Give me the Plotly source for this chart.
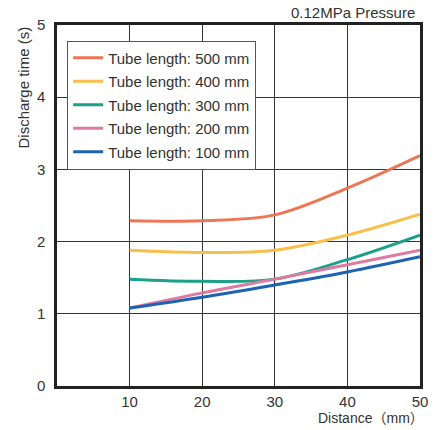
import plotly.graph_objects as go

distance = [10, 20, 30, 40, 50]
series_names = ["Tube length: 500 mm", "Tube length: 400 mm", "Tube length: 300 mm",
                "Tube length: 200 mm", "Tube length: 100 mm"]
t500 = [2.29, 2.29, 2.37, 2.74, 3.19]
t400 = [1.88, 1.85, 1.88, 2.09, 2.38]
t300 = [1.48, 1.45, 1.48, 1.75, 2.09]
t200 = [1.08, 1.29, 1.48, 1.68, 1.88]
t100 = [1.08, 1.23, 1.40, 1.58, 1.79]
series_values = [t500, t400, t300, t200, t100]
colors = ["#EE7656", "#F8C04A", "#1BA08C", "#DE7AA0", "#1D63B3"]

x_ticks = [10, 20, 30, 40, 50]
y_ticks = [0, 1, 2, 3, 4, 5]

font_fam = "Liberation Sans, Arial, Noto Sans CJK JP, sans-serif"

fig = go.Figure()
for i, (name, vals, c) in enumerate(zip(series_names, series_values, colors)):
    fig.add_trace(go.Scatter(
        x=distance, y=vals, mode="lines", name=name,
        line=dict(color=c, width=3, shape="spline", smoothing=1.0),
        legendgroup=str(i),
    ))

fig.update_layout(
    width=434, height=430,
    margin=dict(l=57, r=14, t=25, b=44),
    paper_bgcolor="white", plot_bgcolor="white",
    font=dict(family=font_fam, size=15, color="#333333"),
    showlegend=True,
    legend=dict(
        x=0.028, y=0.957, xanchor="left", yanchor="top",
        bgcolor="white", bordercolor="#555555", borderwidth=1,
        font=dict(size=15, color="#333333"),
        traceorder="grouped", tracegroupgap=1,
    ),
    xaxis=dict(
        range=[0, 50], tickvals=x_ticks, ticktext=[str(v) for v in x_ticks],
        showgrid=True, gridcolor="#333333", gridwidth=1,
        showline=True, linecolor="#222222", linewidth=2.5, mirror=True,
        ticks="", zeroline=False, ticklabelstandoff=0, automargin=False,
        tickfont=dict(size=15, color="#333333"),
    ),
    yaxis=dict(
        range=[0, 5], tickvals=y_ticks, ticktext=[str(v) for v in y_ticks],
        showgrid=True, gridcolor="#333333", gridwidth=1,
        showline=True, linecolor="#222222", linewidth=2.5, mirror=True,
        ticks="", zeroline=False, ticklabelstandoff=6, automargin=False,
        tickfont=dict(size=15, color="#333333"),
    ),
    annotations=[
        dict(text="0.12MPa Pressure", xref="paper", yref="paper", x=1.0, y=1.0,
             xanchor="right", yanchor="bottom", yshift=2, xshift=-3, showarrow=False,
             font=dict(size=15, color="#333333")),
        dict(text="Distance（mm）", xref="paper", yref="paper", x=1.0, y=0,
             xanchor="right", yanchor="top", yshift=-22, xshift=6, showarrow=False,
             font=dict(size=14, color="#333333")),
        dict(text="Discharge time (s)", xref="paper", yref="paper", x=0, y=1.0,
             xanchor="right", yanchor="top", xshift=-24, textangle=-90, showarrow=False,
             font=dict(size=15, color="#333333")),
    ],
)

fig.write_html("out.html")
